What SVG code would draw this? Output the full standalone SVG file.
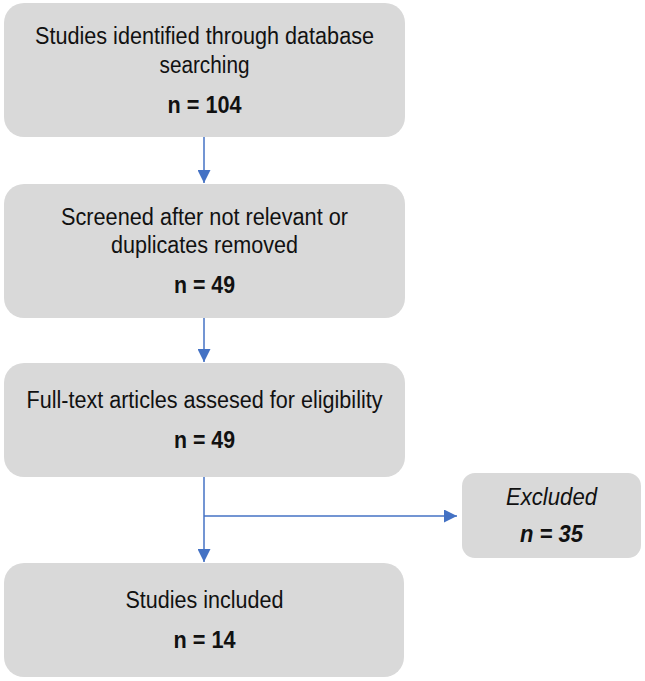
<svg xmlns="http://www.w3.org/2000/svg" width="645" height="681" viewBox="0 0 645 681">
<defs>
<style>
.box{fill:#d9d9d9;}
.t{font-family:"Liberation Sans",Arial,sans-serif;font-size:23.5px;fill:#111;text-anchor:middle;}
.b{font-weight:bold;}
.i{font-style:italic;}
.c{stroke:#4472c4;stroke-width:1.5;fill:none;}
</style>
<marker id="a" markerWidth="13" markerHeight="13" refX="13" refY="6.5" orient="auto" markerUnits="userSpaceOnUse" viewBox="0 0 13 13">
<path d="M0,0 L13,6.5 L0,13 Z" fill="#4472c4"/>
</marker>
</defs>
<rect width="645" height="681" fill="#fff"/>
<g id="connectors">
<path class="c" d="M204,137 V183" marker-end="url(#a)"/>
<path class="c" d="M204,318 V362" marker-end="url(#a)"/>
<path class="c" d="M204,477 V562" marker-end="url(#a)"/>
<path class="c" d="M204,516 H457" marker-end="url(#a)"/>
</g>
<g id="n1">
<rect class="box" x="4" y="3" width="401" height="134" rx="20"/>
<text class="t" x="204.5" y="44" textLength="339" lengthAdjust="spacingAndGlyphs">Studies identified through database</text>
<text class="t" x="204.5" y="73" textLength="90" lengthAdjust="spacingAndGlyphs">searching</text>
<text class="t b" x="204.5" y="113" textLength="74" lengthAdjust="spacingAndGlyphs">n = 104</text>
</g>
<g id="n2">
<rect class="box" x="4" y="184" width="401" height="134" rx="20"/>
<text class="t" x="204.5" y="225" textLength="287" lengthAdjust="spacingAndGlyphs">Screened after not relevant or</text>
<text class="t" x="204.5" y="253" textLength="187" lengthAdjust="spacingAndGlyphs">duplicates removed</text>
<text class="t b" x="204.5" y="293" textLength="61" lengthAdjust="spacingAndGlyphs">n = 49</text>
</g>
<g id="n3">
<rect class="box" x="4" y="363" width="401" height="114" rx="20"/>
<text class="t" x="204.5" y="408" textLength="356" lengthAdjust="spacingAndGlyphs">Full-text articles assesed for eligibility</text>
<text class="t b" x="204.5" y="448" textLength="61" lengthAdjust="spacingAndGlyphs">n = 49</text>
</g>
<g id="n4">
<rect class="box" x="4" y="563" width="400" height="114" rx="20"/>
<text class="t" x="204.5" y="608" textLength="158" lengthAdjust="spacingAndGlyphs">Studies included</text>
<text class="t b" x="204.5" y="648" textLength="62" lengthAdjust="spacingAndGlyphs">n = 14</text>
</g>
<g id="n5">
<rect class="box" x="462" y="473" width="179" height="85" rx="13"/>
<text class="t i" x="551.5" y="505" textLength="91" lengthAdjust="spacingAndGlyphs">Excluded</text>
<text class="t b i" x="551.5" y="542" textLength="63" lengthAdjust="spacingAndGlyphs">n = 35</text>
</g>
</svg>
